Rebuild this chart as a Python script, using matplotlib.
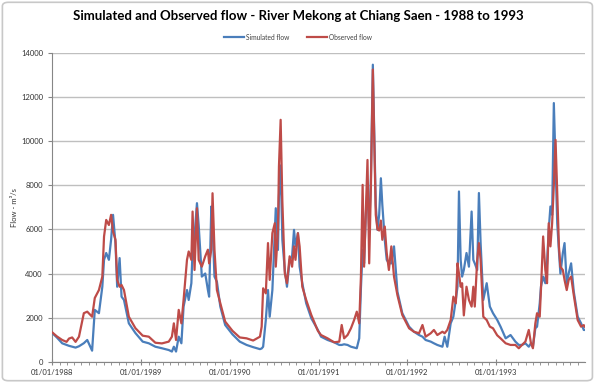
import numpy as np
import pandas as pd
import matplotlib
matplotlib.use("Agg")
import matplotlib.pyplot as plt
import matplotlib.dates as mdates
from matplotlib.patches import FancyBboxPatch

# days counted from 01/01/1988
days = [1, 20, 42, 60, 70, 83, 97, 111, 131, 145, 165, 176, 193, 207, 214, 223, 234, 243, 251, 261,
        268, 278, 286, 296, 316, 343,
        373, 398, 425, 452, 480, 493, 501, 510, 521, 532, 541, 555, 562, 573, 578, 586, 596, 603,
        616, 630, 641, 646, 655, 660, 668, 678, 692, 712, 742,
        772, 800, 827, 855, 862, 868, 879, 888, 895, 906, 916, 920, 929, 933, 940, 947, 957, 966,
        977, 987, 995, 1001, 1011, 1018, 1029, 1045, 1066, 1093,
        1106, 1133, 1160, 1181, 1191, 1201, 1215, 1229, 1242, 1253, 1263, 1270, 1277, 1283, 1290,
        1297, 1304, 1311, 1319, 1331, 1338, 1345, 1352, 1358, 1368, 1376, 1385, 1395, 1406, 1420,
        1440, 1468,
        1488, 1509, 1523, 1536, 1557, 1570, 1584, 1605, 1614, 1625, 1639, 1650, 1660, 1667, 1673,
        1680, 1686, 1693, 1704, 1714, 1725, 1732, 1738, 1748, 1755, 1762, 1773, 1787, 1800, 1813,
        1830,
        1844, 1865, 1885, 1905, 1919, 1932, 1946, 1960, 1969, 1977, 1987, 1994, 2005, 2010, 2019,
        2028, 2035, 2042, 2049, 2056, 2063, 2070, 2077, 2084, 2090, 2100, 2107, 2116, 2124, 2134,
        2145, 2161, 2175, 2186, 2190]

simulated = [1300, 1100, 835, 760, 720, 680, 640, 700, 840, 985, 500, 2350, 2200, 3400, 4620, 4930,
             4620, 5530, 6660, 5380, 3400, 4700, 2950, 2800, 1740, 1300,
             910, 835, 680, 610, 530, 460, 680, 460, 1135, 835, 2500, 3250, 2800, 3560, 5080, 5700,
             7190, 6200, 3860, 4000, 3250, 2950, 7040, 6200, 3860, 3630, 2500, 1665, 1240,
             910, 760, 660, 570, 600, 680, 1890, 3250, 2040, 3250, 5830, 6960, 5070, 7500, 8900,
             5530, 4160, 3400, 4620, 4780, 5980, 5230, 5830, 4310, 3560, 2650, 1970, 1440,
             1135, 985, 880, 760, 760, 790, 760, 680, 640, 610, 1060, 3330, 5080, 4460, 6660, 7920,
             5980, 8320, 13470, 7110, 5980, 6660, 8320, 7110, 5530, 4620, 4460, 4460, 5230, 3180,
             2200, 1590,
             1360, 1210, 1135, 985, 910, 835, 760, 680, 1135, 680, 1740, 2040, 2800, 3400, 7720,
             4620, 3860, 4160, 4930, 4310, 6810, 4620, 4460, 4160, 7650, 5380, 2800, 3560, 2500,
             2200, 1900,
             1590, 1060, 1210, 910, 760, 760, 835, 680, 835, 680, 1515, 1590, 2650, 3400, 3860,
             3560, 4460, 5980, 7040, 6660, 11730, 9000, 6280, 5000, 4000, 4930, 5380, 3560, 4000,
             4460, 3180, 2040, 1740, 1440, 1440]

observed = [1330, 1150, 985, 900, 1050, 1100, 900, 1135, 2200, 2270, 2040, 2890, 3250, 3860, 5675,
            6430, 6200, 6660, 5900, 5530, 3710, 3400, 3480, 3250, 2040, 1520,
            1180, 1135, 860, 830, 910, 1135, 1740, 985, 2350, 1740, 2800, 4620, 5000, 4620, 6810,
            4160, 6960, 4620, 4310, 4780, 5080, 4460, 5080, 7640, 5080, 3250, 2650, 1820, 1400,
            1100, 1060, 960, 1135, 1590, 3330, 3100, 5380, 3710, 5830, 6280, 4310, 5980, 8850,
            10970, 7270, 4010, 3560, 4780, 4310, 5230, 4620, 5830, 5230, 3400, 2800, 2120, 1400,
            1210, 1060, 880, 910, 1665, 1060, 1210, 1515, 1890, 2270, 1740, 3860, 8020, 4310, 6660,
            9150, 4460, 7920, 13250, 6660, 6000, 5950, 6400, 5530, 6130, 4930, 4160, 5230, 3860,
            3020, 2120, 1515,
            1360, 1290, 1665, 1135, 1290, 1440, 1210, 1360, 1290, 1440, 1890, 2950, 2650, 4460,
            4000, 3400, 3560, 2100, 3400, 2800, 2500, 3400, 2500, 4620, 5380, 4620, 2040, 1890,
            1590, 1515, 1200,
            1060, 835, 760, 760, 610, 760, 910, 1440, 835, 610, 1740, 2200, 2040, 3250, 5680, 4160,
            3560, 6280, 5230, 6280, 8020, 10060, 7720, 5230, 4300, 4160, 3710, 3250, 3710, 3860,
            3020, 1890, 1590, 1660, 1590]

dates = pd.Timestamp("1988-01-01") + pd.to_timedelta(days, unit="D")

plt.rcParams['font.family'] = ['Lato', 'DejaVu Sans']

fig = plt.figure(figsize=(5.96, 3.83), dpi=100)
ax = fig.add_axes([0.0872, 0.0556, 0.8943, 0.806])

ax.plot(dates, simulated, color="#4a7ebb", lw=1.6, label="Simulated flow", zorder=3)
ax.plot(dates, observed, color="#be4b48", lw=1.6, label="Observed flow", zorder=4)

ax.set_xlim(pd.Timestamp("1988-01-01"), pd.Timestamp("1993-12-31"))
ax.set_ylim(0, 14000)
ax.set_yticks(np.arange(0, 14001, 2000))
ax.yaxis.grid(True, color="#bfbfbf", lw=1)
ax.set_axisbelow(True)

ax.xaxis.set_major_locator(mdates.YearLocator())
ax.xaxis.set_major_formatter(mdates.DateFormatter("%d/%m/%Y"))
ax.xaxis.set_minor_locator(mdates.MonthLocator())

for s in ["top", "right"]:
    ax.spines[s].set_visible(False)
for s in ["left", "bottom"]:
    ax.spines[s].set_color("#868686")
    ax.spines[s].set_linewidth(0.8)

ax.tick_params(axis="both", which="major", labelsize=5.5, colors="#868686", labelcolor="#333333",
               length=3, width=0.8)
ax.tick_params(axis="x", which="minor", colors="#868686", length=2, width=0.6)
ax.tick_params(axis="x", which="major", direction="inout", length=4)

ax.set_ylabel("Flow - m³/s", fontsize=5.5, color="#333333", labelpad=2)

fig.suptitle("Simulated and Observed flow - River Mekong at Chiang Saen - 1988 to 1993",
             fontsize=9.5, fontweight="bold", y=0.975, x=0.5)
fig.legend(loc="center", bbox_to_anchor=(0.5, 1 - 37 / 383.0), ncol=2, frameon=False,
           fontsize=4.8, handlelength=3, columnspacing=2.5, handletextpad=0.3, labelcolor="#404040")

frame = FancyBboxPatch((0.004, 0.006), 0.99, 0.988, boxstyle="round,pad=0,rounding_size=0.01",
                       transform=fig.transFigure, fill=False, edgecolor="#c8c8c8", lw=1.2)
fig.patches.append(frame)

fig.savefig("out.png", dpi=100)
